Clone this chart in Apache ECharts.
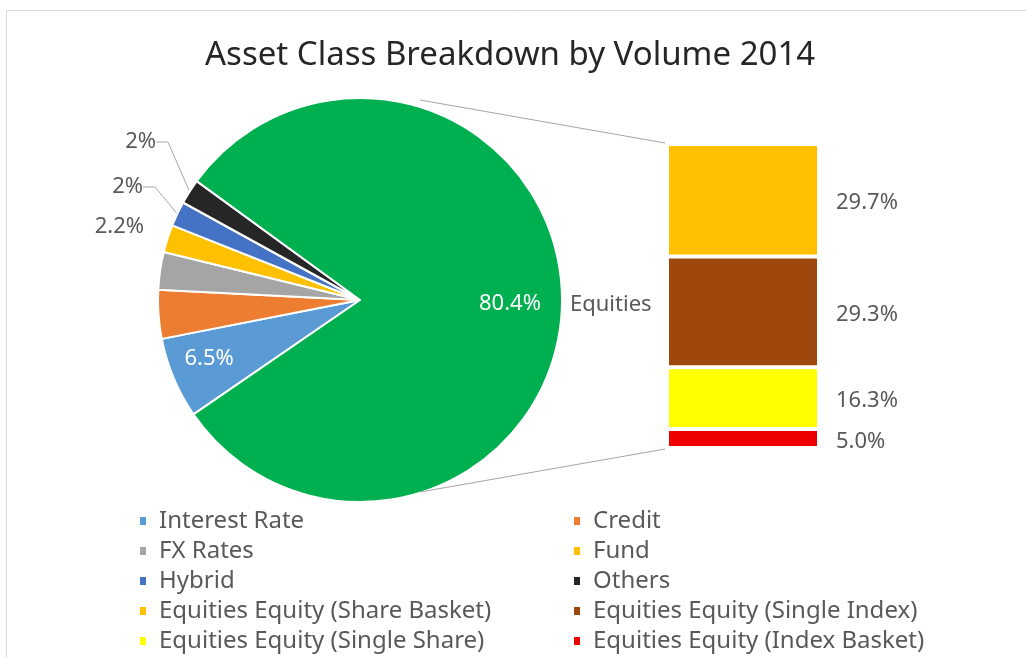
<!DOCTYPE html>
<html>
<head>
	<meta charset="utf-8">
	<title>Asset Class Breakdown by Volume 2014</title>
	<script src="https://cdn.jsdelivr.net/npm/echarts@6/dist/echarts.min.js"></script>
	<style>
		html, body { margin: 0; padding: 0; background: #fff; }
		#main { width: 1026px; height: 658px; }
	</style>
</head>
<body>
	<div id="main"></div>
	<script type="text/javascript">
	// 饼图部分
	var pieNames = ['Interest Rate', 'Credit', 'FX Rates', 'Fund', 'Hybrid', 'Others', 'Equities'];
	var pieValues = [6.5, 3.9, 3.0, 2.2, 2, 2, 80.4];
	var pieColors = ['#5B9BD5', '#ED7D31', '#A5A5A5', '#FFC000', '#4472C4', '#262626', '#00B050'];

	// 右边柱子（Equities 拆分），从下往上
	var barNames = ['Equities Equity (Index Basket)', 'Equities Equity (Single Share)',
		'Equities Equity (Single Index)', 'Equities Equity (Share Basket)'];
	var barValues = [5.0, 16.3, 29.3, 29.7];
	var barColors = ['#EE0000', '#FFFF00', '#9E480E', '#FFC000'];

	// 图例两列
	var legendLeft = ['Interest Rate', 'FX Rates', 'Hybrid', 'Equities Equity (Share Basket)', 'Equities Equity (Single Share)'];
	var legendRight = ['Credit', 'Fund', 'Others', 'Equities Equity (Single Index)', 'Equities Equity (Index Basket)'];

	var FONT = 'Noto Sans';
	var GREY = '#595959';
	var LBL = 22;

	// 布局
	var pieCx = 360, pieCy = 300, pieR = 202;
	var barLeft = 667, barTop = 144, barW = 152, barH = 304;

	var myChart = echarts.init(document.getElementById('main'));

	var pieData = pieNames.map(function (n, i) {
		var d = {name: n, value: pieValues[i], itemStyle: {color: pieColors[i]}};
		if (n === 'Interest Rate') {
			d.label = {show: true, position: 'inside', color: '#fff', offset: [-55, 18]};
		} else if (n === 'Equities') {
			d.label = {show: true, position: 'inside', color: '#fff', offset: [46, 2]};
		} else if (n === 'Credit' || n === 'FX Rates') {
			d.label = {show: false};
			d.labelLine = {show: false};
		} else {
			d.label = {show: true, position: 'outside', color: GREY};
			d.labelLine = {show: n !== 'Fund', length: 12, length2: 12, lineStyle: {color: '#a6a6a6', width: 1}};
		}
		return d;
	});

	// 小扇区标签的位置（文字右端）
	var outLabelPos = {3: [144, 227], 4: [143, 187], 5: [156, 142]};

	var series = [{
		name: 'Asset Class',
		type: 'pie',
		center: [pieCx, pieCy],
		radius: pieR,
		startAngle: 214.5,
		clockwise: true,
		avoidLabelOverlap: false,
		data: pieData,
		itemStyle: {borderColor: '#fff', borderWidth: 2},
		label: {fontFamily: FONT, fontSize: LBL, formatter: '{c}%'},
		labelLayout: function (p) {
			var pos = outLabelPos[p.dataIndex];
			if (!pos) return {};
			return {x: pos[0], y: pos[1], align: 'right', verticalAlign: 'middle'};
		},
		emphasis: {disabled: true}
	}, {
		// 只用来写外侧的 "Equities"
		name: 'names',
		type: 'pie',
		center: [pieCx, pieCy],
		radius: pieR,
		startAngle: 214.5,
		clockwise: true,
		silent: true,
		data: pieNames.map(function (n, i) {
			return {name: n, value: pieValues[i], label: {show: n === 'Equities'}};
		}),
		itemStyle: {color: 'rgba(0,0,0,0)'},
		label: {position: 'outside', formatter: '{b}', color: GREY, fontFamily: FONT, fontSize: LBL, distanceToLabelLine: 6, offset: [0, 2]},
		labelLine: {show: false, length: 2, length2: 0},
		emphasis: {disabled: true},
		z: 3
	}];

	barNames.forEach(function (n, i) {
		series.push({
			name: n,
			type: 'bar',
			stack: 'eq',
			barWidth: '100%',
			data: [barValues[i]],
			itemStyle: {color: barColors[i], borderColor: '#fff', borderWidth: 2},
			label: {
				show: true, position: 'right', distance: 17, offset: [0, 3],
				formatter: function (p) { return p.value.toFixed(1) + '%'; },
				color: GREY, fontFamily: FONT, fontSize: LBL
			},
			emphasis: {disabled: true}
		});
	});

	var barTotal = barValues.reduce(function (a, b) { return a + b; }, 0);

	var legendCommon = {
		orient: 'vertical',
		top: 504,
		height: 160,
		icon: 'rect',
		itemWidth: 8,
		itemHeight: 10,
		itemGap: 6,
		selectedMode: false,
		textStyle: {fontFamily: FONT, fontSize: 24, lineHeight: 22, color: GREY, padding: [0, 0, 0, 7]}
	};

	// 连接线：从饼的上/下边到柱子的上/下角
	var connectors = [
		[pieCx + 60, pieCy - 200, barLeft - 2, barTop - 1],
		[pieCx + 60, pieCy + 192, barLeft - 2, barTop + barH + 1]
	];

	var option = {
		backgroundColor: '#ffffff',
		animation: false,
		title: {
			text: 'Asset Class Breakdown by Volume 2014',
			left: 200,
			top: 34,
			textStyle: {fontFamily: FONT, fontSize: 33, fontWeight: 'normal', color: '#262626'}
		},
		legend: [
			Object.assign({}, legendCommon, {left: 133, data: legendLeft}),
			Object.assign({}, legendCommon, {left: 567, data: legendRight})
		],
		grid: {left: barLeft, top: barTop, width: barW, height: barH},
		xAxis: {type: 'category', data: ['Equities'], show: false},
		yAxis: {type: 'value', min: 0, max: barTotal, show: false},
		graphic: [{
			type: 'rect',
			shape: {x: 6.5, y: 10.5, width: 1100, height: 700},
			style: {fill: 'none', stroke: '#d9d9d9', lineWidth: 1},
			silent: true
		}].concat(connectors.map(function (c) {
			return {
				type: 'line',
				shape: {x1: c[0], y1: c[1], x2: c[2], y2: c[3]},
				style: {stroke: '#a6a6a6', lineWidth: 1},
				silent: true,
				z: 10
			};
		})),
		series: series
	};

	myChart.setOption(option);
	</script>
</body>
</html>
